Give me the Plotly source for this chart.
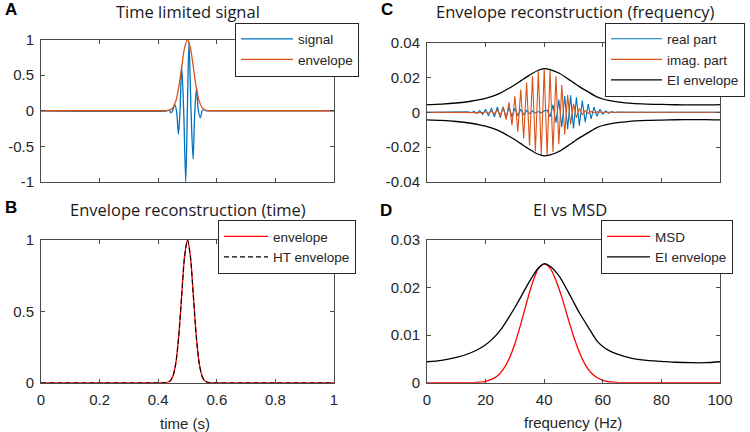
import plotly.graph_objects as go

# ---------------- data ----------------
# Panel A: time limited signal (time in s)
signal_t = [0, 0.430, 0.437, 0.443, 0.449, 0.456, 0.4625, 0.469, 0.4745, 0.480, 0.487,
            0.494, 0.4995, 0.505, 0.512, 0.519, 0.525, 0.531, 0.537, 0.544, 0.550,
            0.556, 0.562, 0.570, 1.0]
signal_v = [0, 0, 0.01, -0.03, 0, 0.09, 0, -0.33, 0, 0.63, 0,
            -1.0, 0, 0.97, 0, -0.68, 0, 0.32, 0, -0.10, 0,
            0.02, 0, 0, 0]

envelope_t = [0, 0.40, 0.42, 0.43, 0.44, 0.45, 0.46, 0.47, 0.48, 0.49, 0.50,
              0.51, 0.52, 0.53, 0.54, 0.55, 0.56, 0.57, 0.58, 0.60, 1.0]
envelope_v = [0, 0, 0.0003, 0.0022, 0.011, 0.044, 0.135, 0.325, 0.607, 0.883, 1.0,
              0.883, 0.607, 0.325, 0.135, 0.044, 0.011, 0.0022, 0.0003, 0, 0]

# Panel B: envelope and Hilbert-transform envelope
ht_envelope_v = [0, 0, 0.0003, 0.0022, 0.011, 0.044, 0.135, 0.325, 0.607, 0.883, 1.0,
                 0.883, 0.607, 0.325, 0.135, 0.044, 0.011, 0.0022, 0.0003, 0, 0]

# Panel C: spectrum (1 Hz bins, 0..100 Hz)
freq_bins = list(range(101))
real_part = ([0.0] * 14 +
             [0.0002, -0.0003, 0.0005, -0.0007, 0.0010, -0.0013, 0.0017, -0.0021,   # 14-21
              0.0025, -0.0028, 0.0030, -0.0031, 0.0031, -0.0030, 0.0028, -0.0026,   # 22-29
              0.0023, -0.0020, 0.0017, -0.0014, 0.0011, -0.0009, 0.0007, -0.0005,   # 30-37
              0.0004, -0.0003, 0.0008, 0.0012, -0.0026, 0.0043, -0.0060, 0.0072,    # 38-45
              -0.0085, 0.0093, -0.0097, 0.0097, -0.0093, 0.0086, -0.0077, 0.0067,   # 46-53
              -0.0057, 0.0047, -0.0038, 0.0030, -0.0023, 0.0017, -0.0012, 0.0009,   # 54-61
              -0.0006, 0.0004, -0.0002, 0.0001] +                                   # 62-65
             [0.0] * 35)
imag_part = ([0.0] * 15 +
             [-0.0001, 0.0001, -0.0001, 0.0002, -0.0002,                             # 15-19
              0.0003, -0.0004, 0.0006, -0.0009, 0.0014, -0.0021, 0.0030, -0.0042,   # 20-27
              0.0057, -0.0074, 0.0092, -0.0111, 0.0130, -0.0150, 0.0170, -0.0190,   # 28-35
              0.0208, -0.0223, 0.0236, -0.0245, 0.0249, -0.0248, 0.0240, -0.0228,   # 36-43
              0.0207, -0.0183, 0.0157, -0.0128, 0.0098, -0.0070, 0.0048, -0.0032,   # 44-51
              0.0022, -0.0015, 0.0010, -0.0007, 0.0005, -0.0003, 0.0002, -0.0001] + # 52-59
             [0.0] * 41)

# EI envelope (panels C and D)
ei_freq = [0, 5, 10, 15, 18, 20, 22, 25, 28, 30, 32, 35, 38, 40, 42, 45, 48, 50,
           52, 55, 58, 60, 62, 65, 70, 75, 80, 85, 90, 95, 100]
ei_env = [0.0044, 0.0047, 0.0053, 0.0063, 0.0072, 0.0080, 0.0090, 0.0110, 0.0138,
          0.0158, 0.0180, 0.0213, 0.0241, 0.0250, 0.0245, 0.0225, 0.0193, 0.0170,
          0.0147, 0.0117, 0.0088, 0.0076, 0.0068, 0.0060, 0.0051, 0.0047, 0.0045,
          0.0043, 0.0042, 0.0042, 0.0044]

# Panel D: MSD
msd_freq = [0, 10, 16, 18, 20, 22, 24, 26, 28, 30, 32, 34, 36, 38, 40, 42, 44, 46,
            48, 50, 52, 54, 56, 58, 60, 62, 64, 66, 70, 100]
msd_v = [0, 0, 0, 0.0001, 0.0003, 0.0007, 0.0014, 0.0028, 0.0050, 0.0082, 0.0123,
         0.0168, 0.0210, 0.0240, 0.0250, 0.0241, 0.0215, 0.0180, 0.0138, 0.0098,
         0.0064, 0.0038, 0.0021, 0.0011, 0.0005, 0.0002, 0.0001, 0, 0, 0]

# tick labels
a_yticks = [-1, -0.5, 0, 0.5, 1]
a_yticktext = ["-1", "-0.5", "0", "0.5", "1"]
time_ticks = [0, 0.2, 0.4, 0.6, 0.8, 1]
time_ticktext = ["0", "0.2", "0.4", "0.6", "0.8", "1"]
b_yticks = [0, 0.5, 1]
b_yticktext = ["0", "0.5", "1"]
c_yticks = [-0.04, -0.02, 0, 0.02, 0.04]
c_yticktext = ["-0.04", "-0.02", "0", "0.02", "0.04"]
freq_ticks = [0, 20, 40, 60, 80, 100]
freq_ticktext = ["0", "20", "40", "60", "80", "100"]
d_yticks = [0, 0.01, 0.02, 0.03]
d_yticktext = ["0", "0.01", "0.02", "0.03"]

# ---------------- styling ----------------
W, H = 750, 432
def fx(px):
    return px / W
def fy(py):
    return 1 - py / H

BLUE = "#0072BD"
ORANGE = "#D95319"
RED = "#FF0000"
BLACK = "#000000"
AXC = "#4a4a4a"
TXT = "#262626"
SANS = "Liberation Sans, Arial, sans-serif"
TICKFONT = dict(family=SANS, size=15, color=TXT)
LEGFONT = dict(family=SANS, size=13.5, color=TXT)
TITLEFONT = dict(family="Open Sans, sans-serif", size=16.5, color="#1a1a1a")

fig = go.Figure()

lw = 1.3
# A
fig.add_trace(go.Scatter(x=signal_t, y=signal_v, mode="lines", name="signal",
                         line=dict(color=BLUE, width=lw, shape="spline", smoothing=0.8),
                         xaxis="x", yaxis="y", legend="legend"))
fig.add_trace(go.Scatter(x=envelope_t, y=envelope_v, mode="lines", name="envelope",
                         line=dict(color=ORANGE, width=lw, shape="spline", smoothing=0.8),
                         xaxis="x", yaxis="y", legend="legend"))
# B
fig.add_trace(go.Scatter(x=envelope_t, y=envelope_v, mode="lines", name="envelope",
                         line=dict(color=RED, width=lw, shape="spline", smoothing=0.8),
                         xaxis="x2", yaxis="y2", legend="legend2"))
fig.add_trace(go.Scatter(x=envelope_t, y=ht_envelope_v, mode="lines", name="HT envelope",
                         line=dict(color=BLACK, width=1.1, dash="5px,3px", shape="spline",
                                   smoothing=0.8),
                         xaxis="x2", yaxis="y2", legend="legend2"))
# C
fig.add_trace(go.Scatter(x=freq_bins, y=real_part, mode="lines", name="real part",
                         line=dict(color=BLUE, width=1.1),
                         xaxis="x3", yaxis="y3", legend="legend3"))
fig.add_trace(go.Scatter(x=freq_bins, y=imag_part, mode="lines", name="imag. part",
                         line=dict(color=ORANGE, width=1.1),
                         xaxis="x3", yaxis="y3", legend="legend3"))
fig.add_trace(go.Scatter(x=ei_freq, y=ei_env, mode="lines", name="EI envelope",
                         line=dict(color=BLACK, width=lw, shape="spline", smoothing=0.8),
                         xaxis="x3", yaxis="y3", legend="legend3"))
fig.add_trace(go.Scatter(x=ei_freq, y=[-v for v in ei_env], mode="lines", name="EI envelope",
                         line=dict(color=BLACK, width=lw, shape="spline", smoothing=0.8),
                         xaxis="x3", yaxis="y3", showlegend=False))
# D
fig.add_trace(go.Scatter(x=msd_freq, y=msd_v, mode="lines", name="MSD",
                         line=dict(color=RED, width=lw, shape="spline", smoothing=0.8),
                         xaxis="x4", yaxis="y4", legend="legend4"))
fig.add_trace(go.Scatter(x=ei_freq, y=ei_env, mode="lines", name="EI envelope",
                         line=dict(color=BLACK, width=lw, shape="spline", smoothing=0.8),
                         xaxis="x4", yaxis="y4", legend="legend4"))

def ax(domain, rng, tickvals, ticktext, showlabels, anchor):
    return dict(domain=domain, range=rng, tickvals=tickvals, ticktext=ticktext,
                showticklabels=showlabels, anchor=anchor,
                showline=True, linecolor=AXC, linewidth=1, mirror="ticks",
                ticks="inside", ticklen=4, tickwidth=1, tickcolor=AXC,
                showgrid=False, zeroline=False, tickfont=TICKFONT,
                ticklabelstandoff=3, fixedrange=True)

xl, xr = fx(41), fx(334)
cl, cr = fx(427), fx(720)
top_y = [fy(182), fy(39.5)]
top_y_c = [fy(182), fy(42.5)]
bot_y = [fy(382.7), fy(240)]

fig.update_layout(
    width=W, height=H,
    margin=dict(l=0, r=0, t=0, b=0, autoexpand=False),
    paper_bgcolor="white", plot_bgcolor="white",
    xaxis=ax([xl, xr], [0, 1], time_ticks, time_ticktext, False, "y"),
    yaxis=ax(top_y, [-1, 1], a_yticks, a_yticktext, True, "x"),
    xaxis2=ax([xl, xr], [0, 1], time_ticks, time_ticktext, True, "y2"),
    yaxis2=ax(bot_y, [0, 1], b_yticks, b_yticktext, True, "x2"),
    xaxis3=ax([cl, cr], [0, 100], freq_ticks, freq_ticktext, False, "y3"),
    yaxis3=ax(top_y_c, [-0.04, 0.04], c_yticks, c_yticktext, True, "x3"),
    xaxis4=ax([cl, cr], [0, 100], freq_ticks, freq_ticktext, True, "y4"),
    yaxis4=ax(bot_y, [0, 0.03], d_yticks, d_yticktext, True, "x4"),
    showlegend=True,
)

def leg(left, top, itemwidth):
    return dict(x=fx(left), y=fy(top), xanchor="left", yanchor="top",
                bgcolor="white", bordercolor=TXT, borderwidth=1, font=LEGFONT,
                tracegroupgap=0, traceorder="normal", itemwidth=itemwidth)

fig.update_layout(legend=leg(235, 22.5, 52), legend2=leg(218, 220, 44),
                  legend3=leg(605, 22.5, 51), legend4=leg(601, 220, 43))

annotations = []
def txt(text, x, y, font, xanchor="center"):
    annotations.append(dict(text=text, x=fx(x), y=fy(y), xref="paper", yref="paper",
                            xanchor=xanchor, yanchor="middle", showarrow=False, font=font))

txt("Time limited signal", 187.5, 11.5, TITLEFONT)
txt("Envelope reconstruction (time)", 187.5, 209, TITLEFONT)
txt("Envelope reconstruction (frequency)", 575, 11.5, TITLEFONT)
txt("EI vs MSD", 570, 209, TITLEFONT)
LETTER = dict(family=SANS, size=17, color="#000000")
txt("<b>A</b>", 3, 10, LETTER, "left")
txt("<b>B</b>", 3, 207, LETTER, "left")
txt("<b>C</b>", 379, 10, LETTER, "left")
txt("<b>D</b>", 378, 210, LETTER, "left")
XLFONT = dict(family=SANS, size=15, color=TXT)
txt("time (s)", 185, 423, XLFONT)
txt("frequency (Hz)", 572.5, 422, XLFONT)
fig.update_layout(annotations=annotations)

fig.write_html("out.html",
               config={"displayModeBar": False},
               post_script="document.body.style.margin='0px';"
                           "document.body.style.overflow='hidden';")
